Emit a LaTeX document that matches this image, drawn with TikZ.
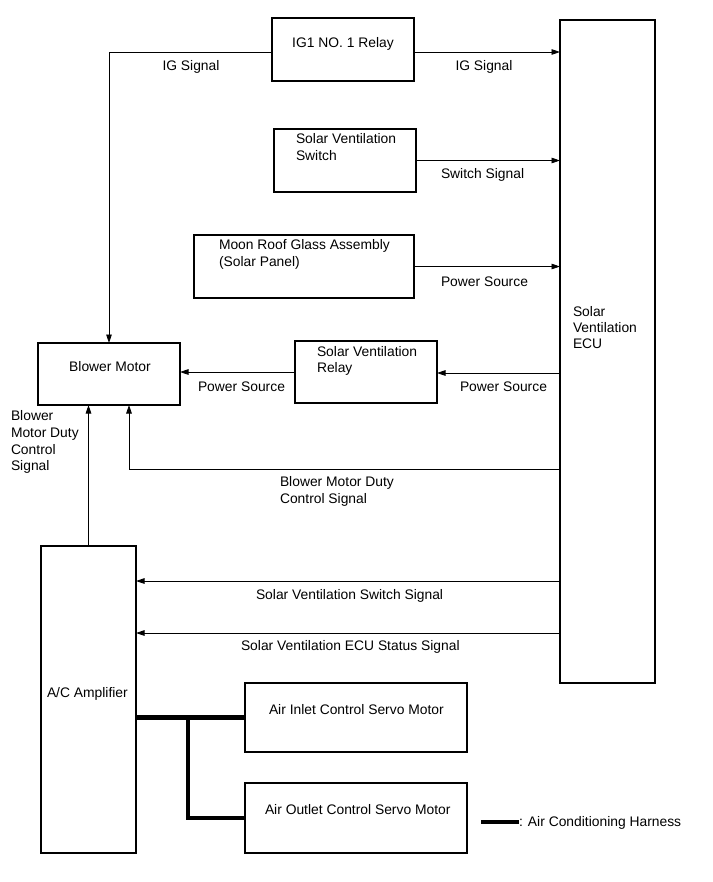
\documentclass[tikz,border=0pt]{standalone}
\usepackage{fontspec}
\setmainfont{Liberation Sans}
\usetikzlibrary{arrows.meta}
\begin{document}
\begin{tikzpicture}[x=1bp,y=-1bp,
  box/.style={draw,line width=1.3bp,inner sep=0pt,outer sep=0pt},
  wire/.style={line width=0.8bp},
  arr/.style={wire,-{Triangle[length=8.5bp,width=5.5bp]}},
  harness/.style={line width=4.5bp},
  txt/.style={inner sep=0pt,outer sep=0pt,anchor=base west,align=left,font=\fontsize{13.85bp}{17bp}\selectfont},
  ctxt/.style={txt,anchor=base,align=center}]
\useasboundingbox (0,0) rectangle (713,882);
% boxes
\node[box,minimum width=142bp,minimum height=63bp] (ig1) at (343,49.5) {};
\node[box,minimum width=142bp,minimum height=63bp] (switch) at (345,160.5) {};
\node[box,minimum width=220bp,minimum height=63bp] (moon) at (304,266.5) {};
\node[box,minimum width=142bp,minimum height=62bp] (relay) at (366,372) {};
\node[box,minimum width=142bp,minimum height=62bp] (blower) at (109,374) {};
\node[box,minimum width=95bp,minimum height=663bp] (ecu) at (607.5,351.5) {};
\node[box,minimum width=95bp,minimum height=307bp] (acamp) at (88.5,699.5) {};
\node[box,minimum width=222bp,minimum height=69bp] (inlet) at (356,717.5) {};
\node[box,minimum width=222bp,minimum height=70bp] (outlet) at (356,818) {};
% box texts (base anchor = baseline of the last line)
\node[ctxt] (tig1) at (343,47.9) {IG1 NO. 1 Relay};
\node[txt] (tswitch) at (296,160.4) {Solar Ventilation\\Switch};
\node[txt] (tmoon) at (219,266.9) {Moon Roof Glass Assembly\\(Solar Panel)};
\node[txt,font=\fontsize{13.85bp}{16bp}\selectfont] (trelay) at (317,372.9) {Solar Ventilation\\Relay};
\node[ctxt] (tblower) at (110,371.9) {Blower Motor};
\node[txt,font=\fontsize{13.85bp}{16bp}\selectfont] (tecu) at (573,348.9) {Solar\\Ventilation\\ECU};
\node[txt] (tacamp) at (47,697.9) {A/C Amplifier};
\node[txt] (tinlet) at (269,714.9) {Air Inlet Control Servo Motor};
\node[txt] (toutlet) at (265,814.9) {Air Outlet Control Servo Motor};
% coordinates on the ECU
\coordinate (e5) at (560,469);
\coordinate (e6) at (560,581);
\coordinate (e7) at (560,633);
\coordinate (bend) at (129,469);
\coordinate (hj) at (188,718);
% connectors
\draw[arr] ([yshift=-2.5bp]ig1.west) -| (blower.north);
\draw[arr] ([yshift=-2.5bp]ig1.east) -- ([yshift=-2.5bp]ig1.east -| ecu.west);
\draw[arr] (switch.east) -- (switch.east -| ecu.west);
\draw[arr] (moon.east) -- (moon.east -| ecu.west);
\draw[arr] ([yshift=-1bp]relay.east -| ecu.west) -- ([yshift=-1bp]relay.east);
\draw[arr] (relay.west) -- (relay.west -| blower.east);
\draw[arr] (e5) -- (bend) -- (bend |- blower.south);
\draw[arr] (acamp.north) -- (acamp.north |- blower.south);
\draw[arr] (e6) -- (e6 -| acamp.east);
\draw[arr] (e7) -- (e7 -| acamp.east);
\draw[harness] (inlet.west -| acamp.east) -- (inlet.west);
\draw[harness] ([yshift=2.25bp]hj) |- (outlet.west);
% connector labels
\node[ctxt] (lig1) at (191,70.9) {IG Signal};
\node[ctxt] (lig2) at (484,70.9) {IG Signal};
\node[txt] (lsw) at (441,178.9) {Switch Signal};
\node[txt] (lps1) at (441,286.9) {Power Source};
\node[txt] (lps2) at (460,391.9) {Power Source};
\node[txt] (lps3) at (198,391.9) {Power Source};
\node[txt,font=\fontsize{13.85bp}{16.7bp}\selectfont] (lduty1) at (11,470.9) {Blower\\Motor Duty\\Control\\Signal};
\node[txt] (lduty2) at (280,503.9) {Blower Motor Duty\\Control Signal};
\node[txt] (lsvs) at (256,599.9) {Solar Ventilation Switch Signal};
\node[txt] (lsvecu) at (241,650.9) {Solar Ventilation ECU Status Signal};
% legend
\coordinate (lg1) at (481,822);
\coordinate (lg2) at (519,822);
\draw[harness] (lg1) -- (lg2);
\node[txt] (tlegend) at (519,826.9) {: Air Conditioning Harness};
\end{tikzpicture}
\end{document}
